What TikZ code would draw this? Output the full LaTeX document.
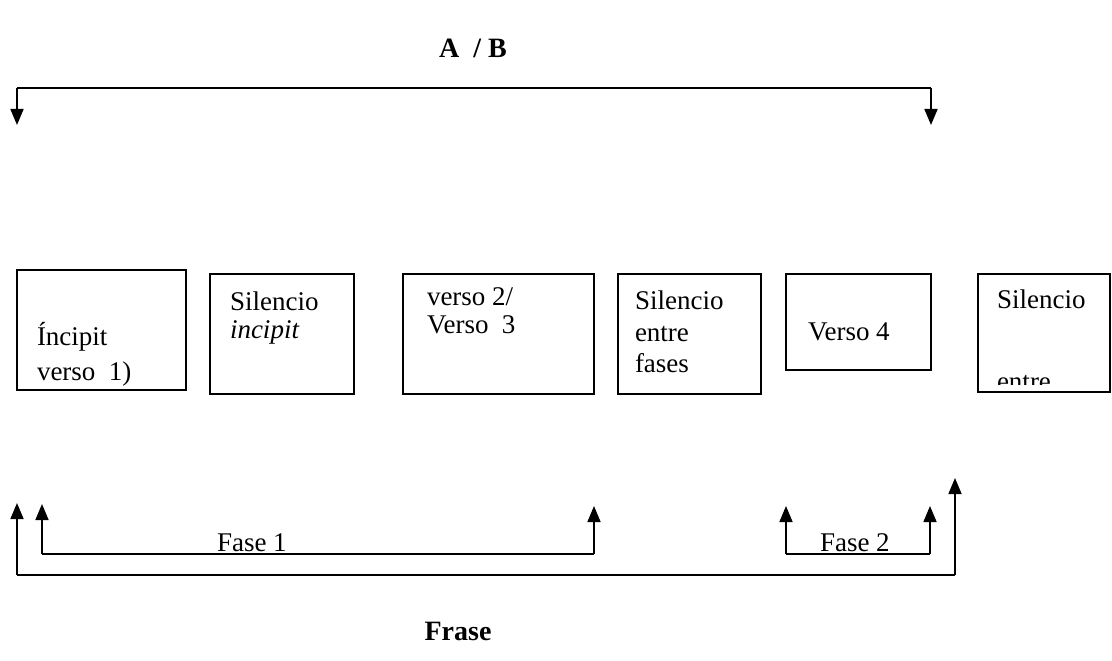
\documentclass[tikz,border=0pt]{standalone}
\usepackage{fontspec}
\setmainfont{Liberation Serif}
\usetikzlibrary{arrows.meta}
\begin{document}
\begin{tikzpicture}[x=1pt,y=-1pt,
  every node/.style={inner sep=0pt, outer sep=0pt},
  txt/.style={anchor=base west, font=\fontsize{27}{31}\selectfont},
  ttl/.style={anchor=base, font=\fontsize{28}{32}\selectfont\bfseries},
  box/.style={draw, line width=1.4pt},
  conn/.style={line width=1.6pt, -{Triangle[length=16pt,width=13pt]}}]
\useasboundingbox (0,0) rectangle (1112,661);

% boxes
\draw[box] (17,270) rectangle (186,390);
\draw[box] (210,274) rectangle (354,394);
\draw[box] (403,274) rectangle (594,394);
\draw[box] (618,274) rectangle (761,394);
\draw[box] (786,274) rectangle (931,370);
\draw[box] (978,274) rectangle (1110,392);

% box texts
\node[txt] (b1a) at (37,345) {Íncipit};
\node[txt] (b1b) at (37,380) {verso~~1)};
\node[txt] (b2a) at (230,310) {Silencio};
\node[txt] (b2b) at (230,338) {\itshape incipit};
\node[txt] (b3a) at (427,305) {verso 2/};
\node[txt] (b3b) at (427,333) {Verso~~3};
\node[txt] (b4a) at (635,309) {Silencio};
\node[txt] (b4b) at (635,341) {entre};
\node[txt] (b4c) at (635,372) {fases};
\node[txt] (b5a) at (808,340) {Verso 4};
\node[txt] (b6a) at (997,308) {Silencio};
\begin{scope}
  \clip (980,276) rectangle (1108,384);
  \node[txt] (b6b) at (997,390) {entre};
\end{scope}

% titles
\node[ttl] (ab) at (473,58) {A~~/ B};
\node[ttl] (frase) at (458,640) {Frase};

% top bracket
\coordinate (tl) at (17,88);
\coordinate (tr) at (931,88);
\coordinate (tlt) at (17,125);
\coordinate (trt) at (931,125);
\draw[line width=1.6pt] (tl) -- (tr);
\draw[conn] (tl) -- (tlt);
\draw[conn] (tr) -- (trt);

% Fase 1
\coordinate (f1l) at (42,554);
\coordinate (f1r) at (594,554);
\coordinate (f1lt) at (42,504);
\coordinate (f1rt) at (594,506);
\draw[line width=1.6pt] (f1l) -- (f1r);
\draw[conn] (f1l) -- (f1lt);
\draw[conn] (f1r) -- (f1rt);
\node[txt] (fase1) at (217,551) {Fase 1};

% Fase 2
\coordinate (f2l) at (786,554);
\coordinate (f2r) at (930,554);
\coordinate (f2lt) at (786,506);
\coordinate (f2rt) at (930,506);
\draw[line width=1.6pt] (f2l) -- (f2r);
\draw[conn] (f2l) -- (f2lt);
\draw[conn] (f2r) -- (f2rt);
\node[txt] (fase2) at (820,551) {Fase 2};

% Frase bracket
\coordinate (frl) at (17,575);
\coordinate (frr) at (955,575);
\coordinate (frlt) at (17,503);
\coordinate (frrt) at (955,478);
\draw[line width=1.6pt] (frl) -- (frr);
\draw[conn] (frl) -- (frlt);
\draw[conn] (frr) -- (frrt);
\end{tikzpicture}
\end{document}
